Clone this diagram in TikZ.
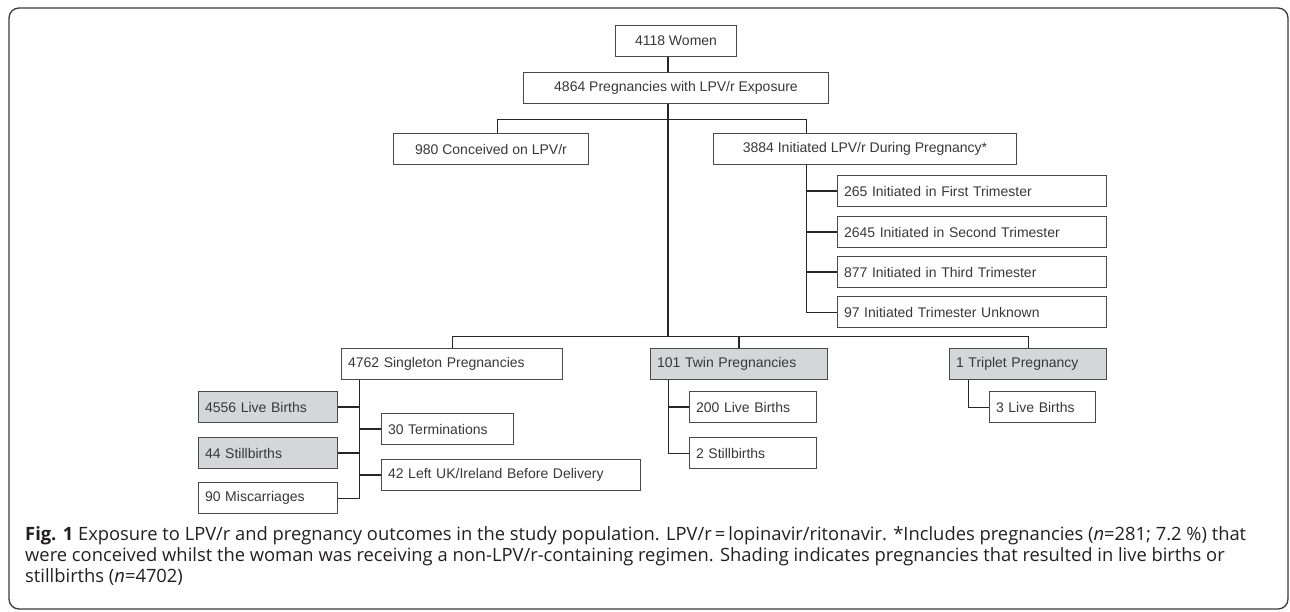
\documentclass[tikz,border=0pt]{standalone}
\usepackage{fontspec}
\setmainfont{Liberation Sans}
\newfontfamily\capfont{Open Sans}
\definecolor{framecol}{HTML}{3A3A3A}
\definecolor{boxline}{HTML}{4A4A4A}
\definecolor{linecol}{HTML}{262626}
\definecolor{boxtext}{HTML}{383838}
\definecolor{shade}{HTML}{D5D6D8}
\definecolor{captext}{HTML}{231F20}
\newlength\capwidthref
\newcommand\capfirstline{\textbf{Fig. 1} Exposure to LPV/r and pregnancy outcomes in the study population. LPV/r\,=\,lopinavir/ritonavir. *Includes pregnancies (\textit{n}=281; 7.2~\%) that}
\AtBeginDocument{%
  \settowidth\capwidthref{\capfont\fontsize{10}{12}\selectfont\capfirstline}%
  \pgfmathsetmacro{\capsize}{10*1221/\capwidthref}%
  \global\let\capsize\capsize}
\tikzset{
  box/.style={draw=boxline, line width=1pt, rectangle, anchor=north west,
    minimum height=31pt, inner xsep=6.5pt, inner ysep=0pt, text=boxtext,
    font=\fontsize{14}{16}\selectfont},
  lbox/.style={box, align=left},
  cbox/.style={box, align=center},
  shaded/.style={fill=shade},
  conn/.style={draw=linecol, line width=1pt},
  stub/.style={draw=linecol, line width=1.8pt},
  trunk/.style={draw=linecol, line width=1.8pt},
  captxt/.style={anchor=base west, inner sep=0pt, text=captext,
    font=\capfont\fontsize{\capsize}{21}\selectfont}
}
\begin{document}
\begin{tikzpicture}[x=1pt, y=-1pt]
\useasboundingbox (0,0) rectangle (1290,611);
% frame
\draw[framecol, line width=1.3pt, rounded corners=10pt] (9,8) rectangle (1288,609);

% nodes
\node[cbox, minimum width=121pt] (women) at (615,25) {4118 Women};
\node[cbox, minimum width=305pt] (preg) at (523,72) {4864 Pregnancies with LPV/r Exposure};
\node[cbox, minimum width=195pt] (conc) at (393,133) {980 Conceived on LPV/r};
\node[cbox, minimum width=303pt] (init) at (713,133) {3884 Initiated LPV/r During Pregnancy*};
\node[lbox, text width=256pt] (t1) at (837,175) {265 Initiated in First Trimester};
\node[lbox, text width=256pt] (t2) at (837,216) {2645 Initiated in Second Trimester};
\node[lbox, text width=256pt] (t3) at (837,256) {877 Initiated in Third Trimester};
\node[lbox, text width=256pt] (t4) at (837,296) {97 Initiated Trimester Unknown};
\node[lbox, text width=208pt] (single) at (341,348) {4762 Singleton Pregnancies};
\node[lbox, shaded, text width=164pt] (twin) at (650,348) {101 Twin Pregnancies};
\node[lbox, shaded, text width=144pt] (trip) at (949,348) {1 Triplet Pregnancy};
\node[lbox, shaded, text width=126pt] (lb) at (198,391) {4556 Live Births};
\node[lbox, shaded, text width=126pt] (sb) at (198,437) {44 Stillbirths};
\node[lbox, text width=126pt] (mis) at (198,482) {90 Miscarriages};
\node[lbox, text width=119pt] (term) at (381,413) {30 Terminations};
\node[lbox, text width=246pt] (lft) at (381,459) {42 Left UK/Ireland Before Delivery};
\node[lbox, text width=114pt] (tlb) at (689,391) {200 Live Births};
\node[lbox, text width=114pt] (tsb) at (689,437) {2 Stillbirths};
\node[lbox, text width=93pt] (plb) at (989,391) {3 Live Births};

% helper coordinates
\coordinate (tx) at (668,336);
\coordinate (cx) at (497,119);
\coordinate (ix) at (806,119);
\coordinate (sx) at (359,336);
\coordinate (px) at (968,336);

% connectors
\draw[trunk] (women.south -| tx) -- (preg.north -| tx);
\draw[trunk] (preg.south -| tx) -- (tx);
\draw[conn] (conc.north -| cx) -- (cx) -- (ix) -- (init.north -| ix);
\draw[conn] (init.south -| ix) -- (ix |- t4.west) -- (t4.west);
\draw[stub] (ix |- t1.west) -- (t1.west);
\draw[stub] (ix |- t2.west) -- (t2.west);
\draw[stub] (ix |- t3.west) -- (t3.west);
\draw[conn] (single.north) -- (single.north |- tx) -- (trip.north |- tx) -- (trip.north);
\draw[stub] (twin.north |- tx) -- (twin.north);
\draw[conn] (single.south -| sx) -- (sx |- mis.east) -- (mis.east);
\draw[stub] (lb.east) -- (lb.east -| sx);
\draw[stub] (sb.east) -- (sb.east -| sx);
\draw[stub] (sx |- term.west) -- (term.west);
\draw[stub] (sx |- lft.west) -- (lft.west);
\draw[conn] (twin.south -| tx) -- (tx |- tsb.west) -- (tsb.west);
\draw[stub] (tx |- tlb.west) -- (tlb.west);
\draw[conn] (trip.south -| px) -- (px |- plb.west) -- (plb.west);

% caption
\node[captxt] (cap1) at (25,540) {\capfirstline};
\node[captxt] (cap2) at (25,561) {were conceived whilst the woman was receiving a non-LPV/r-containing regimen. Shading indicates pregnancies that resulted in live births or};
\node[captxt] (cap3) at (25,582) {stillbirths (\textit{n}=4702)};
\end{tikzpicture}
\end{document}
